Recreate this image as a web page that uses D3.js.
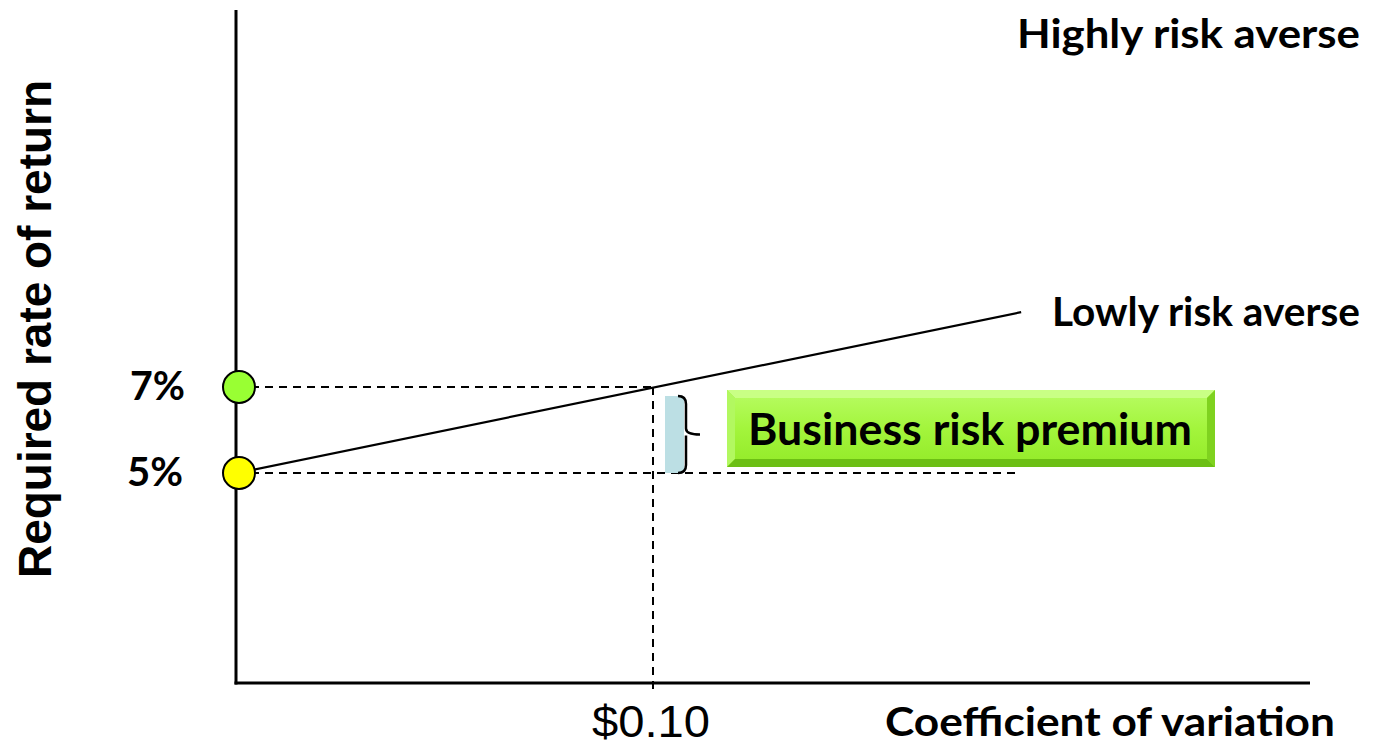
<!DOCTYPE html>
<html>
<head>
<meta charset="utf-8">
<script src="https://cdn.jsdelivr.net/npm/d3@7"></script>
<style>
  html, body { margin: 0; padding: 0; background: #ffffff; }
  svg { display: block; }
</style>
</head>
<body>
<svg id="chart" width="1393" height="748"></svg>
<script>
// Required rate of return (%) marked on the vertical axis
const markedRates = [5, 7];
const markerColors = ["#ffff00", "#99ff33"];
const rateLabels = ["5%", "7%"];

// Coefficient of variation marked on the horizontal axis
const cvTicks = [0.10];
const cvTickLabels = ["$0.10"];

// Lowly risk averse investor: required return vs coefficient of variation
const lowlyCV = [0, 0.1885];
const lowlyRate = [5, 8.74];

// Premium between base rate and the rate at CV = $0.10
const premiumFrom = 5;
const premiumTo = 7;
const premiumCV = 0.10;

const svg = d3.select("#chart");

const x = d3.scaleLinear().domain([0, 0.10]).range([237, 653]);
const y = d3.scaleLinear().domain([5, 7]).range([473, 387]);

const labelFont = "Lato, 'Open Sans', sans-serif";
const arialFont = "'Liberation Sans', Arial, sans-serif";

// bold label helper, stretched to a fixed run length
function label(txt, xPos, yPos, size, len, anchor, family, weight) {
  return svg.append("text").attr("x", xPos).attr("y", yPos)
    .attr("text-anchor", anchor || "start")
    .attr("font-family", family || labelFont).attr("font-weight", weight || 700).attr("font-size", size)
    .attr("textLength", len).attr("lengthAdjust", "spacingAndGlyphs")
    .text(txt);
}

// axes
const axisX0 = 236, axisY0 = 683;
svg.append("line").attr("x1", axisX0).attr("x2", axisX0).attr("y1", 10).attr("y2", axisY0 + 1.5)
  .attr("stroke", "#000").attr("stroke-width", 3);
svg.append("line").attr("x1", axisX0 - 1.5).attr("x2", 1310).attr("y1", axisY0).attr("y2", axisY0)
  .attr("stroke", "#000").attr("stroke-width", 3);

// dashed guides
const dash = "8,6";
const g = svg.append("g").attr("stroke", "#000").attr("stroke-width", 2).attr("stroke-dasharray", dash).attr("fill", "none");
g.append("line").attr("x1", x(0)).attr("x2", x(premiumCV)).attr("y1", y(premiumTo)).attr("y2", y(premiumTo));
g.append("line").attr("x1", x(0)).attr("x2", x(0.1875)).attr("y1", y(premiumFrom)).attr("y2", y(premiumFrom));
g.append("line").attr("x1", x(premiumCV)).attr("x2", x(premiumCV)).attr("y1", y(premiumTo)).attr("y2", axisY0 + 6);

// premium bracket
const bx = x(premiumCV) + 12;
const yTop = y(premiumTo) + 9, yBot = y(premiumFrom);
svg.append("rect").attr("x", bx).attr("y", yTop).attr("width", 19).attr("height", yBot - yTop)
  .attr("fill", "#bcdfe4");
const bxr = bx + 19, mid = (yTop + yBot) / 2;
svg.append("path")
  .attr("d", `M${bxr - 6},${yTop} Q${bxr + 2},${yTop} ${bxr + 2},${yTop + 8} L${bxr + 2},${mid - 6} Q${bxr + 2},${mid} ${bxr + 16},${mid} ` +
             `M${bxr + 2},${mid + 1} Q${bxr + 2},${mid + 6} ${bxr + 2},${mid + 10} L${bxr + 2},${yBot - 8} Q${bxr + 2},${yBot} ${bxr - 6},${yBot}`)
  .attr("fill", "none").attr("stroke", "#000").attr("stroke-width", 2.5);

// lowly risk averse line
const line = d3.line().x(d => x(d[0])).y(d => y(d[1]));
svg.append("path").datum(d3.zip(lowlyCV, lowlyRate)).attr("d", line)
  .attr("fill", "none").attr("stroke", "#000").attr("stroke-width", 2.2);

// rate markers
svg.selectAll("circle.marker").data(markedRates).join("circle")
  .attr("class", "marker")
  .attr("cx", x(0) + 2).attr("cy", d => y(d)).attr("r", 16)
  .attr("fill", (d, i) => markerColors[i]).attr("stroke", "#000").attr("stroke-width", 2);

// rate labels
markedRates.forEach((d, i) => {
  label(rateLabels[i], i === 0 ? 127 : 130, y(d) + 13, 40, i === 0 ? 56 : 55);
});

// x tick labels
cvTicks.forEach((d, i) => {
  label(cvTickLabels[i], x(d) - 2, 737, 44, 118, "middle", arialFont, 400);
});

// axis titles
label("Coefficient of variation", 885, 736, 40, 450);
svg.append("text").attr("transform", "translate(51,329) rotate(-90)").attr("text-anchor", "middle")
  .attr("font-family", arialFont).attr("font-weight", 700).attr("font-size", 46)
  .attr("textLength", 498).attr("lengthAdjust", "spacingAndGlyphs")
  .text("Required rate of return");

// curve labels
label("Highly risk averse", 1017, 48, 40, 343);
label("Lowly risk averse", 1052, 326, 40, 308);

// bevelled premium label box
const defs = svg.append("defs");
const gradV = defs.append("linearGradient").attr("id", "boxFill").attr("x1", 0).attr("x2", 0).attr("y1", 0).attr("y2", 1);
gradV.append("stop").attr("offset", "0%").attr("stop-color", "#b4fb5c");
gradV.append("stop").attr("offset", "50%").attr("stop-color", "#a3f53c");
gradV.append("stop").attr("offset", "100%").attr("stop-color", "#96ec2c");

const bX = 727, bY = 390, bW = 488, bH = 77, bev = 8;
const box = svg.append("g");
box.append("rect").attr("x", bX).attr("y", bY).attr("width", bW).attr("height", bH).attr("fill", "#9bef33");
// top bevel
box.append("path").attr("d", `M${bX},${bY} L${bX + bW},${bY} L${bX + bW - bev},${bY + bev} L${bX + bev},${bY + bev} Z`).attr("fill", "#c9ff85");
// left bevel
box.append("path").attr("d", `M${bX},${bY} L${bX + bev},${bY + bev} L${bX + bev},${bY + bH - bev} L${bX},${bY + bH} Z`).attr("fill", "#b2f860");
// right bevel
box.append("path").attr("d", `M${bX + bW},${bY} L${bX + bW},${bY + bH} L${bX + bW - bev},${bY + bH - bev} L${bX + bW - bev},${bY + bev} Z`).attr("fill", "#7fd21f");
// bottom bevel
box.append("path").attr("d", `M${bX},${bY + bH} L${bX + bW},${bY + bH} L${bX + bW - bev},${bY + bH - bev} L${bX + bev},${bY + bH - bev} Z`).attr("fill", "#6cbf14");
box.append("rect").attr("x", bX + bev).attr("y", bY + bev).attr("width", bW - 2 * bev).attr("height", bH - 2 * bev).attr("fill", "url(#boxFill)");
label("Business risk premium", 748, bY + 55, 43, 444);
</script>
</body>
</html>
